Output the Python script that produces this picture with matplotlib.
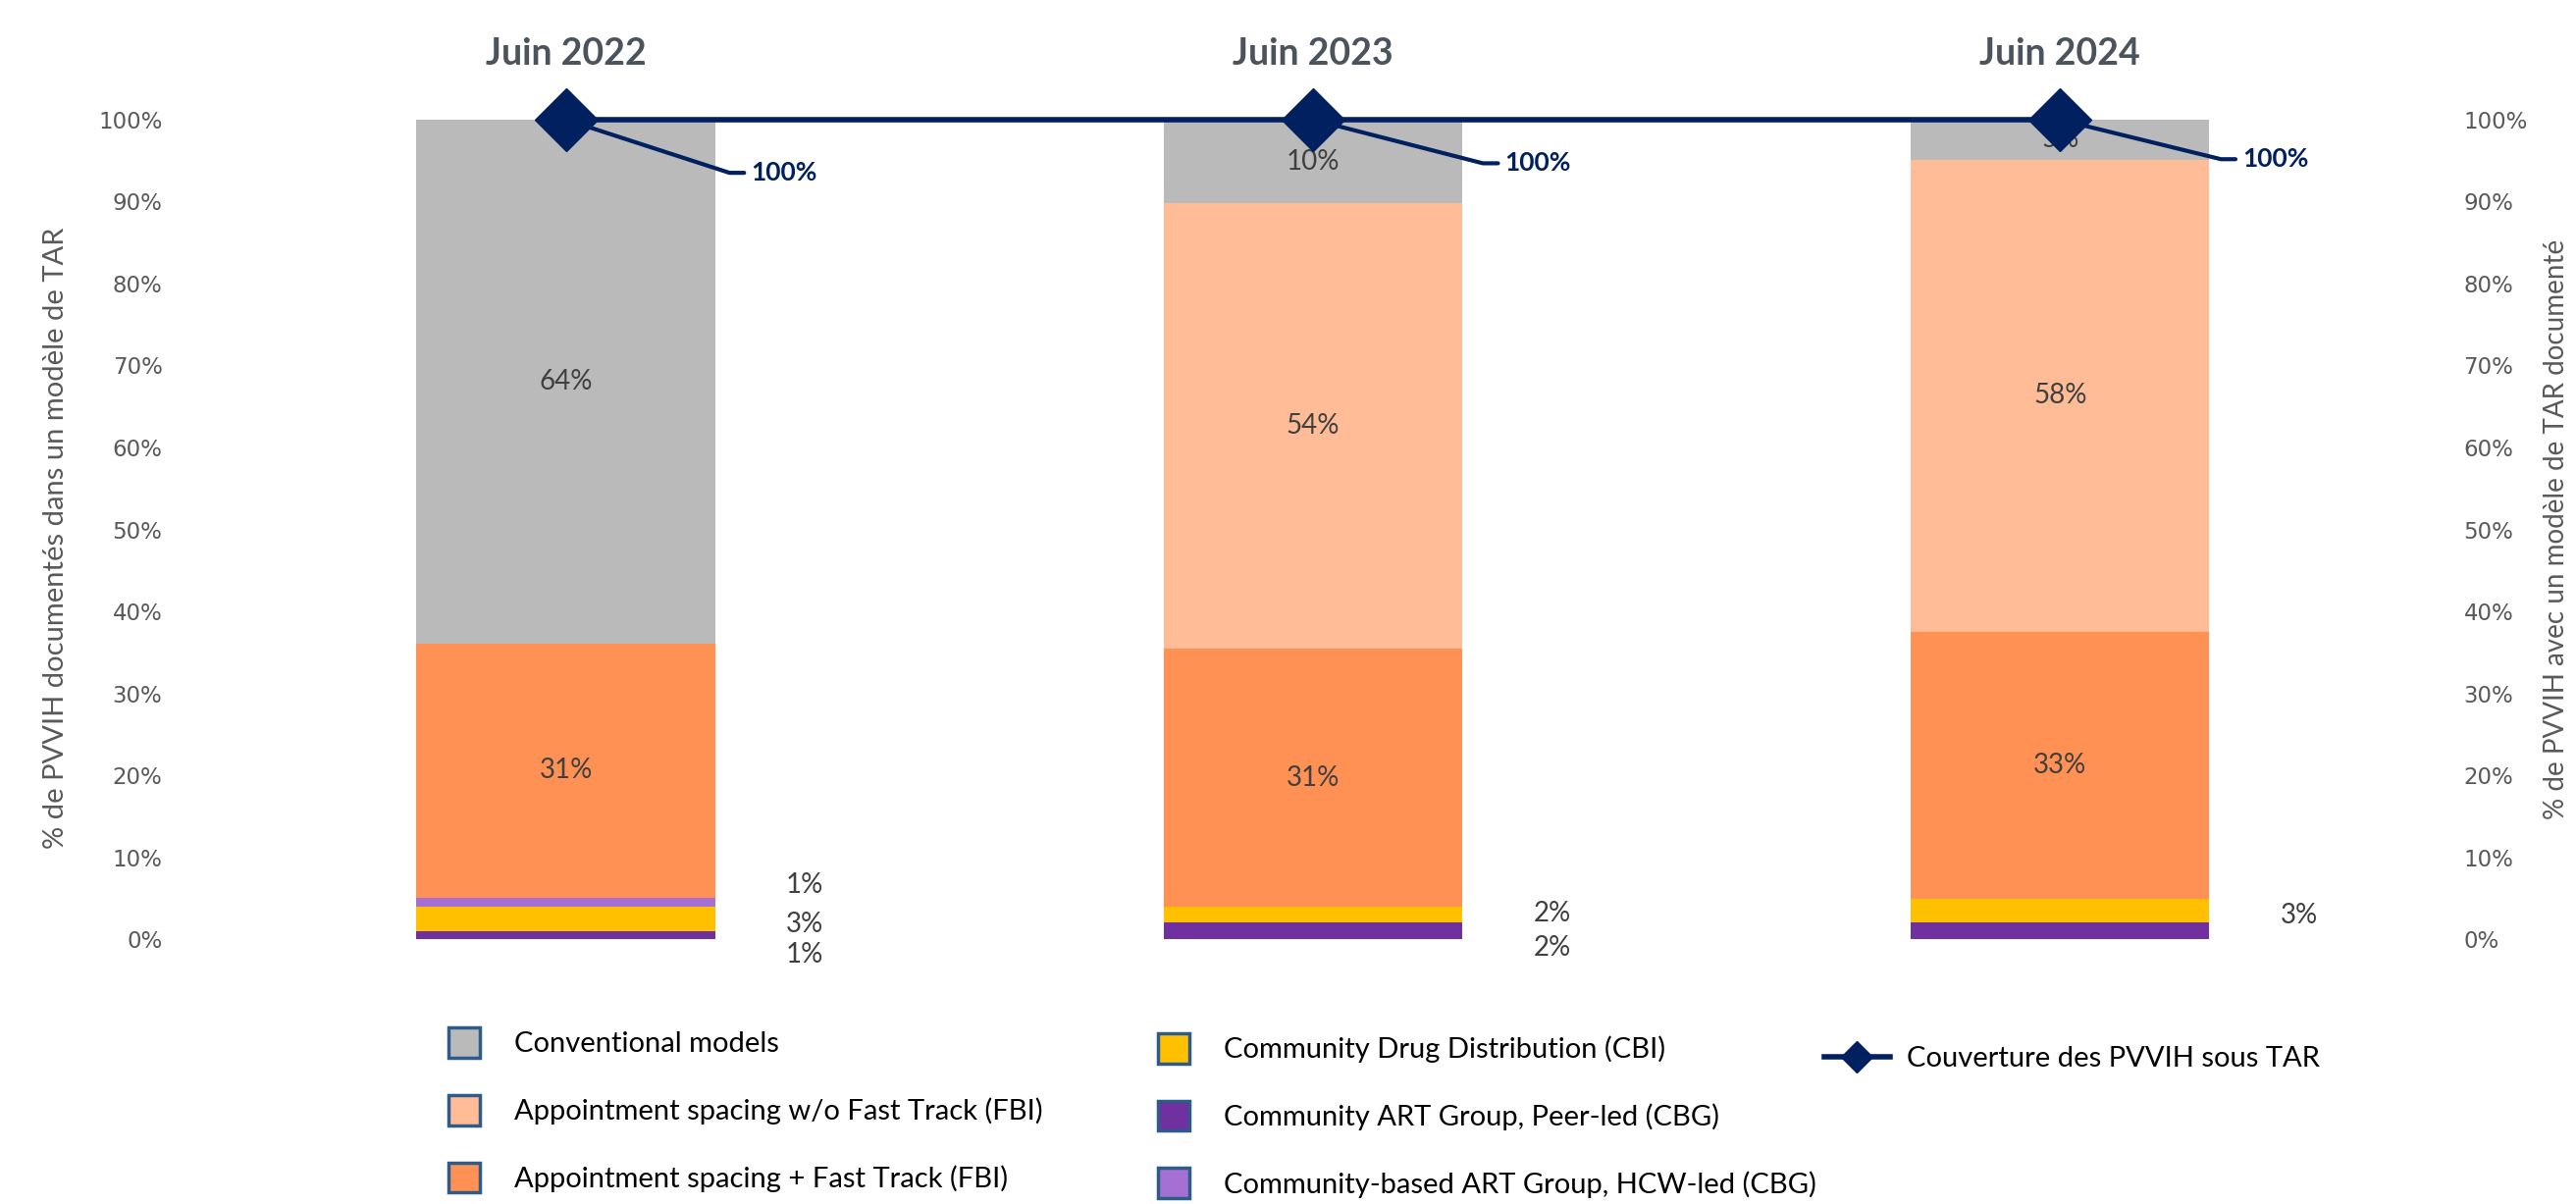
import math
import matplotlib
matplotlib.use('Agg')
import matplotlib.pyplot as plt
from matplotlib.patches import Patch
from matplotlib.lines import Line2D

plt.rcParams['font.family'] = ['Lato', 'DejaVu Sans']

# data (% of PLHIV in each ART model)
years = ['Juin 2022', 'Juin 2023', 'Juin 2024']
peer_led = [1.0, 2.0, 2.0]
drug_distribution = [2.9, 2.0, 2.9]
hcw_led = [1.1, 0.0, 0.0]
fast_track = [31.1, 31.4, 32.6]
spacing_no_ft = [0.0, 54.4, 57.6]
conventional = [63.9, 10.2, 4.9]
coverage = [100, 100, 100]

# styles
navy = '#002060'
text_c = '#404040'
axis_c = '#595959'
edge_c = '#2E5C8A'

series = [
    ('Community ART Group, Peer-led (CBG)', peer_led, '#7030A0'),
    ('Community Drug Distribution (CBI)', drug_distribution, '#FFC000'),
    ('Community-based ART Group, HCW-led (CBG)', hcw_led, '#A66FD2'),
    ('Appointment spacing + Fast Track (FBI)', fast_track, '#FF9155'),
    ('Appointment spacing w/o Fast Track (FBI)', spacing_no_ft, '#FFBC96'),
    ('Conventional models', conventional, '#BABABA'),
]

# hand-placed labels for the thin segments: (series index, bar index, y position)
small_labels = [(2, 0, 6.6), (1, 0, 1.8), (0, 0, -1.9),
                (1, 1, 3.1), (0, 1, -1.1),
                (1, 2, 2.9)]
small_dx = 0.32
# offsets (points) of the coverage labels
cov_dx = [160, 165, 158]
cov_dy = [-39, -32, -29]

fig = plt.figure(figsize=(26.25, 12.27), dpi=100)
ax = fig.add_axes([0.0747, 0.22, 0.87, 0.6806])
x = list(range(len(years)))
width = 0.4

bottom = [0.0] * len(years)
for i, (name, vals, col) in enumerate(series):
    ax.bar(x, vals, width, bottom=bottom, color=col, linewidth=0, zorder=2)
    if i >= 3:
        for j, v in enumerate(vals):
            if v > 0:
                ax.text(x[j], bottom[j] + v / 2, f'{v:.0f}%', ha='center', va='center',
                        fontsize=20, color=text_c, zorder=3)
    bottom = [b + v for b, v in zip(bottom, vals)]

for si, bi, ypos in small_labels:
    v = series[si][1][bi]
    ax.text(x[bi] + small_dx, ypos, f'{v:.0f}%', ha='center', va='center',
            fontsize=20, color=text_c)

ax.set_xlim(-0.5, len(years) - 0.5)
ax.set_ylim(0, 100)
ax.set_yticks(range(0, 101, 10))
ax.set_yticklabels([f'{t}%' for t in range(0, 101, 10)], family='DejaVu Sans',
                   fontsize=16.5, color=axis_c)
ax.set_xticks(x)
ax.set_xticklabels(years, fontsize=27, fontweight='bold', color='#4B535C')
ax.tick_params(axis='x', top=True, labeltop=True, bottom=False, labelbottom=False,
               length=0, pad=36)
ax.tick_params(axis='y', length=0, pad=22)
for s in ax.spines.values():
    s.set_visible(False)
ax.set_ylabel('% de PVVIH documentés dans un modèle de TAR', fontsize=21, color=axis_c)
ax.yaxis.set_label_coords(-0.055, 0.49)

# secondary axis: coverage line
ax2 = ax.twinx()
ax2.set_ylim(0, 100)
ax2.set_yticks(range(0, 101, 10))
ax2.set_yticklabels([f'{t}%' for t in range(0, 101, 10)], family='DejaVu Sans',
                    fontsize=16.5, color=axis_c)
ax2.tick_params(axis='y', length=0, pad=22)
for s in ax2.spines.values():
    s.set_visible(False)
ax2.set_ylabel('% de PVVIH avec un modèle de TAR documenté', fontsize=20,
               color=axis_c, rotation=90)
ax2.yaxis.set_label_coords(1.049, 0.5)

ax2.plot(x, coverage, color=navy, lw=4, marker='D', markersize=33,
         markerfacecolor=navy, markeredgecolor=navy, zorder=5, clip_on=False)
for j, v in enumerate(coverage):
    ang = math.degrees(math.atan(-cov_dy[j] / (cov_dx[j] - 40)))
    ax2.annotate(f'{v:.0f}%', xy=(x[j], v), xytext=(cov_dx[j], cov_dy[j]),
                 textcoords='offset points', ha='center', va='center',
                 fontsize=19, fontweight='bold', color=navy, zorder=4,
                 arrowprops=dict(arrowstyle='-', color=navy, lw=3,
                                 connectionstyle=f'angle,angleA=0,angleB={-ang:.1f},rad=0',
                                 shrinkA=3, shrinkB=0))

# legend in three blocks
def box(col):
    return Patch(facecolor=col, edgecolor=edge_c, linewidth=2.5)

col1 = [series[5], series[4], series[3]]
col2 = [series[1], series[0], series[2]]
leg_kw = dict(frameon=False, fontsize=21, borderpad=0, borderaxespad=0,
              labelspacing=1.3, handlelength=1.1, handleheight=1.25,
              handletextpad=1.2, loc='upper left')
fig.legend([box(c) for _, _, c in col1], [n for n, _, _ in col1],
           bbox_to_anchor=(0.174, 0.1467), **leg_kw)
fig.legend([box(c) for _, _, c in col2], [n for n, _, _ in col2],
           bbox_to_anchor=(0.4495, 0.142), **leg_kw)
fig.legend([Line2D([], [], color=navy, lw=4, marker='D', markersize=16)],
           ['Couverture des PVVIH sous TAR'], frameon=False, fontsize=21,
           borderpad=0, borderaxespad=0, handlelength=2.3, handletextpad=0.6,
           loc='upper left', bbox_to_anchor=(0.708, 0.131))

fig.savefig('out.png', dpi=100)
